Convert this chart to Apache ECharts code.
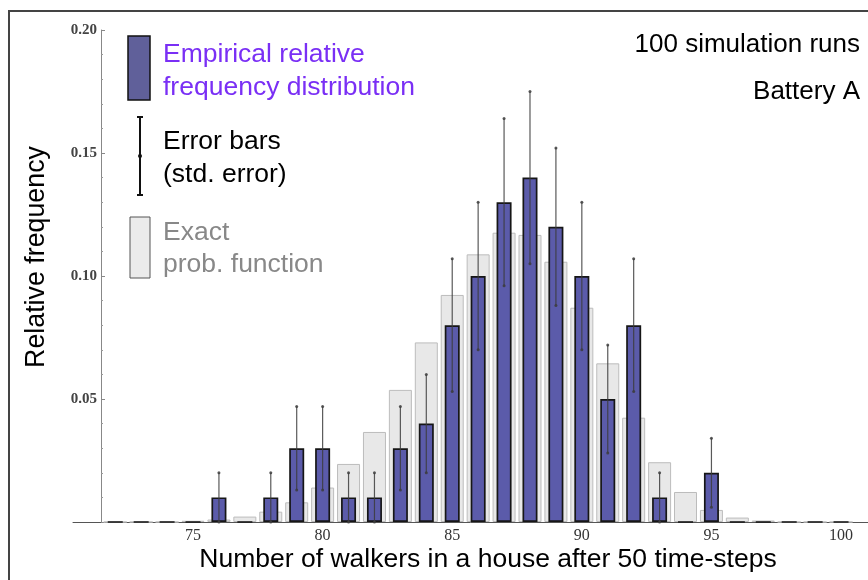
<!DOCTYPE html>
<html>
<head>
<meta charset="utf-8">
<script src="https://cdn.jsdelivr.net/npm/echarts@6/dist/echarts.min.js"></script>
<style>
html,body{margin:0;padding:0;background:#fff;}
#chart{width:868px;height:580px;}
</style>
</head>
<body>
<div id="chart"></div>
<script>
// Number of walkers (categories on x)
const walkers = [72,73,74,75,76,77,78,79,80,81,82,83,84,85,86,87,88,89,90,91,92,93,94,95,96,97,98,99,100];
// Empirical relative frequency (100 runs)
const empirical = [0,0,0,0,0.01,0,0.01,0.03,0.03,0.01,0.01,0.03,0.04,0.08,0.10,0.13,0.14,0.12,0.10,0.05,0.08,0.01,0,0.02,0,0,0,0,0];
// Standard error half-length of each empirical bar
const stdError = [0,0,0,0,0.010,0,0.010,0.017,0.017,0.010,0.010,0.017,0.020,0.027,0.030,0.034,0.035,0.032,0.030,0.022,0.027,0.010,0,0.014,0,0,0,0,0];
// Exact probability function
const exact = [0,0,0,0.0005,0.001,0.0022,0.0042,0.008,0.014,0.0236,0.0366,0.0537,0.073,0.0923,0.1088,0.1176,0.1167,0.1058,0.0871,0.0645,0.0424,0.0243,0.0122,0.0049,0.0018,0.0006,0,0,0];
// Tick labels
const xTicks = [75,80,85,90,95,100];
const yTicks = [0,0.05,0.10,0.15,0.20];

const chart = echarts.init(document.getElementById('chart'), null, {renderer:'canvas'});

const sans = 'Liberation Sans, Arial, sans-serif';
const serif = 'Liberation Serif, Times New Roman, serif';

const errData = [];
walkers.forEach((w,i)=>{ if (stdError[i] > 0) errData.push([w, empirical[i], stdError[i]]); });

const option = {
  animation: false,
  backgroundColor: '#fff',
  grid: {left: 73, right: 0, top: 30, bottom: 58, containLabel: false},
  xAxis: [{
    type: 'value', min: 70.37, max: 101.04,
    axisLine: {show: true, onZero: false, lineStyle: {color: '#555', width: 1}},
    axisTick: {show: false},
    splitLine: {show: false},
    axisLabel: {customValues: xTicks, margin: 6, color: '#333', fontFamily: serif, fontSize: 16,
      formatter: v => String(Math.round(v))}
  }, {
    type: 'value', min: 70.37, max: 101.04, show: false
  }],
  yAxis: {
    type: 'value', min: 0, max: 0.2, interval: 0.05, offset: -28,
    axisLine: {show: true, onZero: false, lineStyle: {color: '#888', width: 1}},
    axisTick: {show: true, inside: true, length: 4, lineStyle: {color: '#888'}},
    minorTick: {show: true, splitNumber: 5, length: 2, lineStyle: {color: '#999'}},
    splitLine: {show: false},
    axisLabel: {customValues: yTicks, margin: 4, color: '#444', fontFamily: serif, fontSize: 15, fontWeight: 'bold',
      formatter: v => v === 0 ? '' : v.toFixed(2)}
  },
  series: [{
    name: 'Exact prob. function', type: 'bar', xAxisIndex: 1,
    data: walkers.map((w,i)=>[w, exact[i]]),
    barWidth: 23,
    itemStyle: {color: '#e8e8e8', borderColor: '#bcbcbc', borderWidth: 1},
    silent: true, z: 1
  }, {
    name: 'Empirical relative frequency distribution', type: 'bar', xAxisIndex: 0,
    data: walkers.map((w,i)=>[w, empirical[i]]),
    barWidth: 15,
    itemStyle: {color: '#5b5baa', borderColor: '#161616', borderWidth: 1.7},
    silent: true, z: 2
  }, {
    name: 'Error bars', type: 'custom', xAxisIndex: 0,
    data: errData, encode: {x: 0, y: 1}, z: 3, silent: true,
    renderItem: function(params, api){
      const x = api.value(0), y = api.value(1), e = api.value(2);
      const top = api.coord([x, y + e]);
      const bot = api.coord([x, y - e]);
      const col = 'rgba(60,60,60,0.85)';
      return {type: 'group', children: [
        {type: 'line', shape: {x1: top[0], y1: top[1], x2: bot[0], y2: bot[1]}, style: {stroke: col, lineWidth: 1.2}},
        {type: 'circle', shape: {cx: top[0], cy: top[1], r: 1.5}, style: {fill: col}},
        {type: 'circle', shape: {cx: bot[0], cy: bot[1], r: 1.5}, style: {fill: col}}
      ]};
    }
  }],
  graphic: [
    {type: 'rect', shape: {x: 9, y: 11, width: 900, height: 620}, style: {fill: 'none', stroke: '#444', lineWidth: 2}, z: 0, silent: true},
    // legend: empirical
    {type: 'rect', shape: {x: 128, y: 36, width: 22, height: 64}, style: {fill: '#60609a', stroke: '#111', lineWidth: 1.5}, z: 10},
    {type: 'text', x: 163, y: 55, style: {text: 'Empirical relative', fill: '#7a2ff5', font: '26.5px ' + sans, verticalAlign: 'middle'}, z: 10},
    {type: 'text', x: 163, y: 88, style: {text: 'frequency distribution', fill: '#7a2ff5', font: '26.5px ' + sans, verticalAlign: 'middle'}, z: 10},
    // legend: error bars
    {type: 'line', shape: {x1: 140, y1: 117, x2: 140, y2: 195}, style: {stroke: '#111', lineWidth: 2}, z: 10},
    {type: 'line', shape: {x1: 137, y1: 117, x2: 143, y2: 117}, style: {stroke: '#111', lineWidth: 2}, z: 10},
    {type: 'line', shape: {x1: 137, y1: 195, x2: 143, y2: 195}, style: {stroke: '#111', lineWidth: 2}, z: 10},
    {type: 'circle', shape: {cx: 140, cy: 156, r: 2}, style: {fill: '#111'}, z: 10},
    {type: 'text', x: 163, y: 142, style: {text: 'Error bars', fill: '#000', font: '26.5px ' + sans, verticalAlign: 'middle'}, z: 10},
    {type: 'text', x: 163, y: 175, style: {text: '(std. error)', fill: '#000', font: '26.5px ' + sans, verticalAlign: 'middle'}, z: 10},
    // legend: exact
    {type: 'rect', shape: {x: 130, y: 217, width: 20, height: 61}, style: {fill: '#ebebeb', stroke: '#555', lineWidth: 1}, z: 10},
    {type: 'text', x: 163, y: 233, style: {text: 'Exact', fill: '#888', font: '26.5px ' + sans, verticalAlign: 'middle'}, z: 10},
    {type: 'text', x: 163, y: 265, style: {text: 'prob. function', fill: '#888', font: '26.5px ' + sans, verticalAlign: 'middle'}, z: 10},
    // annotations
    {type: 'text', x: 860, y: 45, style: {text: '100 simulation runs', fill: '#000', font: '26px ' + sans, align: 'right', verticalAlign: 'middle'}, z: 10},
    {type: 'text', x: 860, y: 92, style: {text: 'Battery A', fill: '#000', font: '26px ' + sans, align: 'right', verticalAlign: 'middle'}, z: 10},
    // axis titles
    {type: 'text', x: 488, y: 560, style: {text: 'Number of walkers in a house after 50 time-steps', fill: '#000', font: '26.5px ' + sans, align: 'center', verticalAlign: 'middle'}, z: 10},
    {type: 'text', x: 37, y: 257, rotation: Math.PI / 2, style: {text: 'Relative frequency', fill: '#000', font: '26.8px ' + sans, align: 'center', verticalAlign: 'middle'}, z: 10}
  ]
};
chart.setOption(option);
</script>
</body>
</html>
